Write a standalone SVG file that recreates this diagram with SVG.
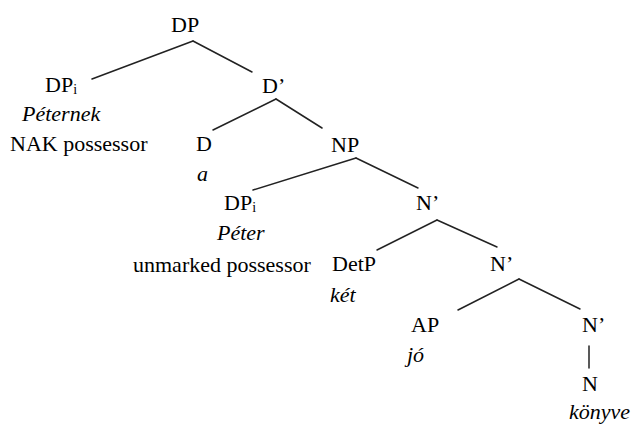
<svg xmlns="http://www.w3.org/2000/svg" width="638" height="426" viewBox="0 0 638 426" font-family="Liberation Serif, Tinos, Times New Roman, serif">
<rect width="638" height="426" fill="#fff"/>
<g id="connectors" stroke="#222" stroke-width="1.5" stroke-linecap="round">
<line x1="193" y1="41" x2="92" y2="79"/>
<line x1="193" y1="41" x2="252" y2="72"/>
<line x1="276" y1="99" x2="213" y2="130"/>
<line x1="276" y1="99" x2="322" y2="128"/>
<line x1="356" y1="158" x2="253" y2="190"/>
<line x1="356" y1="158" x2="418" y2="188"/>
<line x1="437" y1="220" x2="377" y2="250"/>
<line x1="437" y1="220" x2="497" y2="247"/>
<line x1="519" y1="279" x2="458" y2="310"/>
<line x1="519" y1="279" x2="580" y2="309"/>
<line x1="589" y1="346" x2="589" y2="368"/>
</g>
<text x="171" y="32" font-family="Liberation Serif, Tinos, Times New Roman, serif" font-size="22" id="n-dp">DP</text>
<text x="45" y="92" font-family="Liberation Serif, Tinos, Times New Roman, serif" font-size="22" id="n-dpi1">DP<tspan font-size="14" dy="2">i</tspan></text>
<text x="22" y="121" font-family="Liberation Serif, Tinos, Times New Roman, serif" font-size="22" font-style="italic">Péternek</text>
<text x="10" y="151" font-family="Liberation Serif, Tinos, Times New Roman, serif" font-size="22">NAK possessor</text>
<text x="262" y="93" font-family="Liberation Serif, Tinos, Times New Roman, serif" font-size="22" id="n-dbar">D’</text>
<text x="196" y="151" font-family="Liberation Serif, Tinos, Times New Roman, serif" font-size="22" id="n-d">D</text>
<text x="197" y="181" font-family="Liberation Serif, Tinos, Times New Roman, serif" font-size="22" font-style="italic">a</text>
<text x="331" y="152" font-family="Liberation Serif, Tinos, Times New Roman, serif" font-size="22" id="n-np">NP</text>
<text x="224" y="210" font-family="Liberation Serif, Tinos, Times New Roman, serif" font-size="22" id="n-dpi2">DP<tspan font-size="14" dy="2">i</tspan></text>
<text x="217" y="240" font-family="Liberation Serif, Tinos, Times New Roman, serif" font-size="22" font-style="italic">Péter</text>
<text x="133" y="272" font-family="Liberation Serif, Tinos, Times New Roman, serif" font-size="22">unmarked possessor</text>
<text x="416" y="210" font-family="Liberation Serif, Tinos, Times New Roman, serif" font-size="22" id="n-nbar1">N’</text>
<text x="332" y="271" font-family="Liberation Serif, Tinos, Times New Roman, serif" font-size="22" id="n-detp">DetP</text>
<text x="330" y="302" font-family="Liberation Serif, Tinos, Times New Roman, serif" font-size="22" font-style="italic">két</text>
<text x="490" y="271" font-family="Liberation Serif, Tinos, Times New Roman, serif" font-size="22" id="n-nbar2">N’</text>
<text x="411" y="332" font-family="Liberation Serif, Tinos, Times New Roman, serif" font-size="22" id="n-ap">AP</text>
<text x="407" y="362" font-family="Liberation Serif, Tinos, Times New Roman, serif" font-size="22" font-style="italic">jó</text>
<text x="582" y="332" font-family="Liberation Serif, Tinos, Times New Roman, serif" font-size="22" id="n-nbar3">N’</text>
<text x="582" y="391" font-family="Liberation Serif, Tinos, Times New Roman, serif" font-size="22" id="n-n">N</text>
<text x="569" y="419" font-family="Liberation Serif, Tinos, Times New Roman, serif" font-size="22" font-style="italic">könyve</text>
</svg>
